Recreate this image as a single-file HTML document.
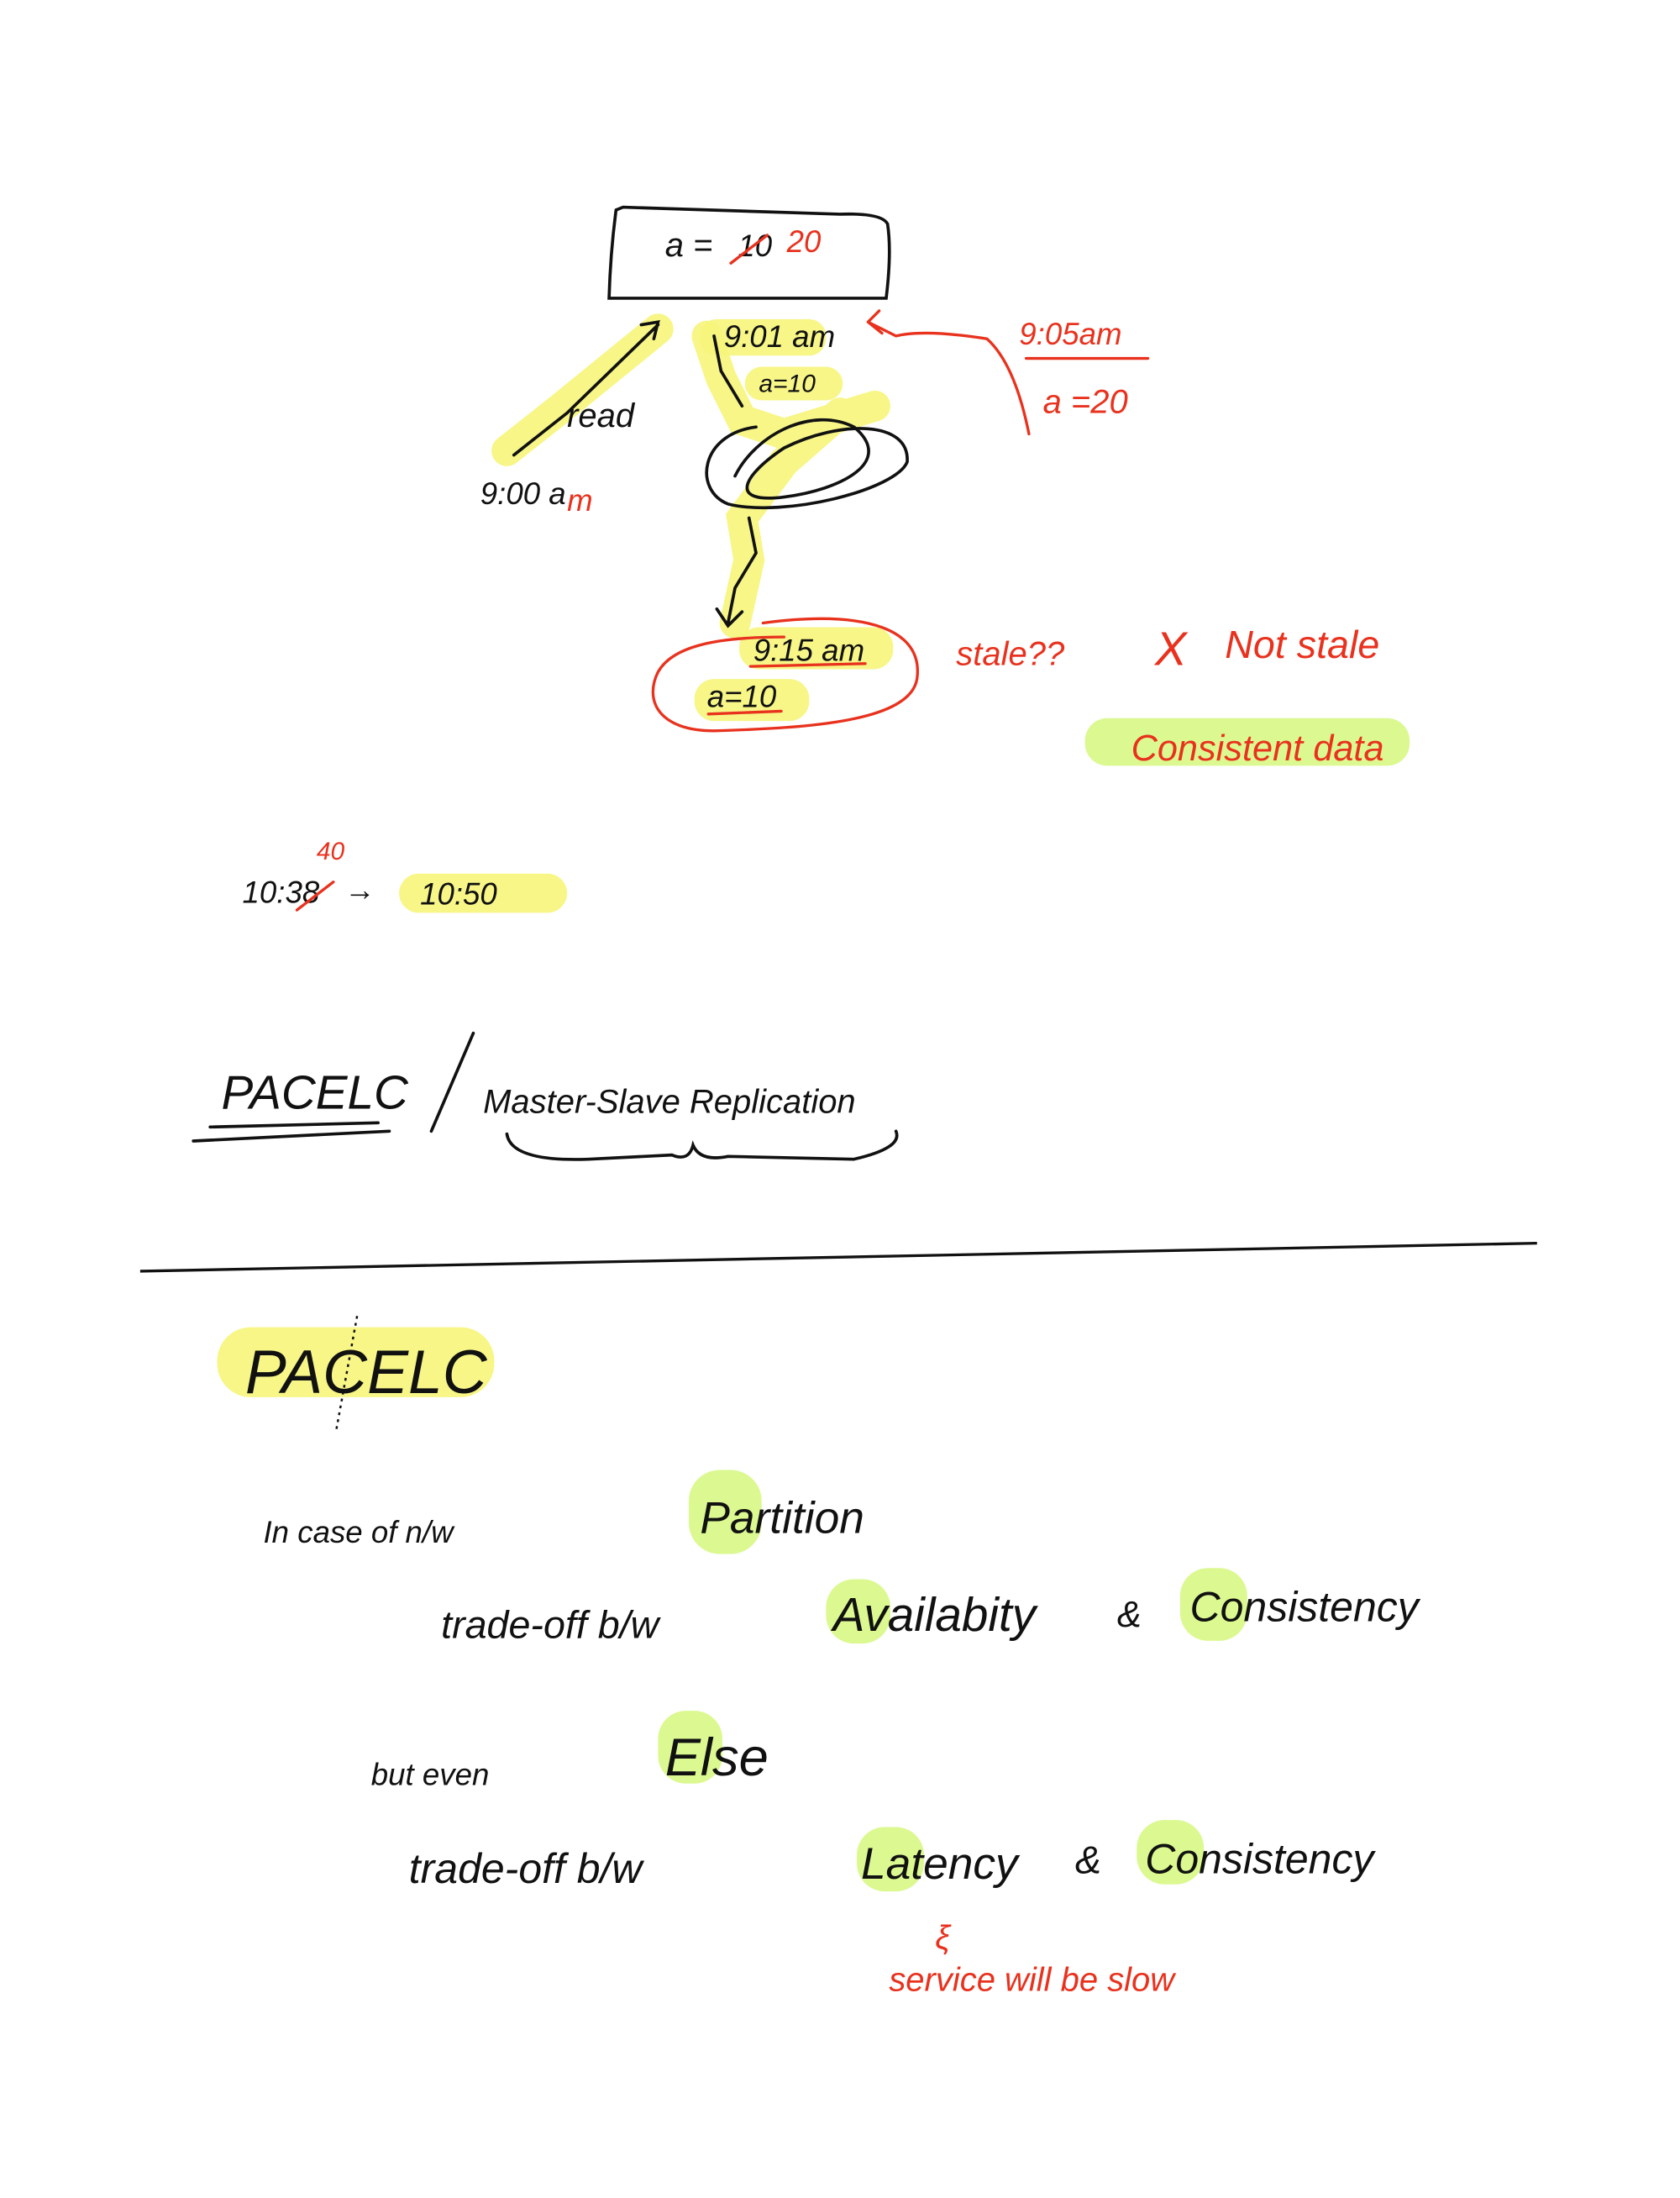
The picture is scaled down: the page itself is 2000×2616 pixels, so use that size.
<!DOCTYPE html>
<html><head><meta charset="utf-8"><style>
html,body{margin:0;padding:0;background:#fff}
svg{display:block}
text{font-family:"Liberation Sans",sans-serif;font-style:italic}
.k{fill:#111}.r{fill:#e8321e}
.ks{stroke:#111;fill:none;stroke-width:2.2;stroke-linecap:round}
.rs{stroke:#e8321e;fill:none;stroke-width:2;stroke-linecap:round}
.yh{fill:#f6f57a;opacity:.9}.gh{fill:#d9f98a;opacity:.95}
.yl{stroke:#f6f57a;fill:none;stroke-linecap:round;opacity:.9}
</style></head><body>
<svg width="2000" height="2616" viewBox="0 0 1200 1570">
<g>
<path class="yl" stroke-width="22" d="M362,322 L400,292 L470,235"/>
<path class="yl" stroke-width="22" d="M505,240 L515,270 L530,300 L560,310 L625,290 M600,295 L560,330 L530,370 L535,400 L525,445"/>
<rect class="yh" x="500" y="228" width="90" height="26" rx="12"/>
<rect class="yh" x="532" y="262" width="70" height="24" rx="12"/>
<rect class="yh" x="528" y="448" width="110" height="30" rx="14"/>
<rect class="yh" x="496" y="485" width="82" height="30" rx="14"/>
<rect class="gh" x="775" y="513" width="232" height="34" rx="16"/>
<rect class="yh" x="285" y="624" width="120" height="28" rx="14"/>
<rect class="yh" x="155" y="948" width="198" height="50" rx="24"/>
<rect class="gh" x="492" y="1050" width="52" height="60" rx="22"/>
<rect class="gh" x="590" y="1128" width="46" height="46" rx="20"/>
<rect class="gh" x="843" y="1120" width="48" height="52" rx="20"/>
<rect class="gh" x="470" y="1222" width="46" height="52" rx="20"/>
<rect class="gh" x="612" y="1305" width="48" height="46" rx="20"/>
<rect class="gh" x="812" y="1300" width="48" height="46" rx="20"/>
</g>
<g>
<path class="ks" d="M440,150 Q436,180 435,213 L633,213 Q637,180 634,160 Q630,152 600,153 L445,148 Z"/>
<text class="k" x="475" y="183" font-size="24">a =</text>
<text class="k" x="527" y="183" font-size="22">10</text>
<line class="rs" x1="522" y1="188" x2="548" y2="168"/>
<text class="r" x="562" y="180" font-size="22">20</text>
<path class="ks" d="M367,325 L405,295 L470,232 M458,232 L470,230 L467,242"/>
<text class="k" x="405" y="305" font-size="24">read</text>
<text class="k" x="343" y="360" font-size="22">9:00 a</text>
<text class="r" x="405" y="365" font-size="22">m</text>
<text class="k" x="517" y="248" font-size="22">9:01 am</text>
<text class="k" x="542" y="280" font-size="18">a=10</text>
<path class="ks" d="M510,240 L515,265 L530,290 M540,305 C500,310 495,350 520,360 C560,370 640,350 648,330 C650,300 600,300 560,320 C530,340 520,360 560,355 C600,350 640,330 610,305 C580,290 540,310 525,340 M535,370 L540,395 L525,420 L520,445 M512,435 L520,447 L530,437"/>
<path class="rs" d="M735,310 Q725,260 705,242 Q660,235 640,240 L620,230 M620,230 L628,222 M620,230 L630,238"/>
<text class="r" x="728" y="246" font-size="22">9:05am</text>
<line class="rs" x1="733" y1="256" x2="820" y2="256"/>
<text class="r" x="745" y="295" font-size="24">a =20</text>
<path class="rs" d="M545,445 C620,435 660,450 655,485 C650,515 580,520 510,522 C470,522 460,500 470,480 C480,462 510,455 560,455"/>
<text class="k" x="538" y="472" font-size="22">9:15 am</text>
<line class="rs" x1="536" y1="476" x2="618" y2="474"/>
<text class="k" x="505" y="505" font-size="22">a=10</text>
<line class="rs" x1="506" y1="510" x2="558" y2="508"/>
<text class="r" x="683" y="475" font-size="24">stale??</text>
<text class="r" x="825" y="475" font-size="34">X</text>
<text class="r" x="875" y="470" font-size="28">Not stale</text>
<text class="r" x="808" y="543" font-size="26">Consistent data</text>
</g>
<g>
<text class="k" x="173" y="645" font-size="22">10:38</text>
<line class="rs" x1="212" y1="650" x2="238" y2="630"/>
<text class="r" x="226" y="614" font-size="18">40</text>
<text class="k" x="246" y="643" font-size="22">→</text>
<text class="k" x="300" y="646" font-size="22">10:50</text>
</g>
<g>
<text class="k" x="158" y="792" font-size="34">PACELC</text>
<path class="ks" d="M138,815 L278,808 M150,805 L270,802" stroke-width="3"/>
<line class="ks" x1="308" y1="808" x2="338" y2="738"/>
<text class="k" x="345" y="795" font-size="24">Master-Slave  Replication</text>
<path class="ks" d="M362,810 Q365,830 420,828 L480,825 Q492,830 495,818 Q500,830 520,826 L610,828 Q645,820 640,808"/>
</g>
<line x1="100" y1="908" x2="1098" y2="888" stroke="#111" stroke-width="2"/>
<g>
<text class="k" x="175" y="995" font-size="44" font-style="normal">PACELC</text>
<line x1="255" y1="940" x2="240" y2="1022" stroke="#111" stroke-width="1.5" stroke-dasharray="2,3"/>
<text class="k" x="188" y="1102" font-size="22">In   case   of   n/w</text>
<text class="k" x="500" y="1095" font-size="32">Partition</text>
<text class="k" x="315" y="1170" font-size="28">trade-off   b/w</text>
<text class="k" x="595" y="1165" font-size="34">Availabity</text>
<text class="k" x="798" y="1162" font-size="26">&amp;</text>
<text class="k" x="850" y="1158" font-size="30">Consistency</text>
<text class="k" x="265" y="1275" font-size="22">but   even</text>
<text class="k" x="475" y="1268" font-size="38">Else</text>
<text class="k" x="292" y="1345" font-size="30">trade-off   b/w</text>
<text class="k" x="615" y="1342" font-size="32">Latency</text>
<text class="k" x="768" y="1338" font-size="28">&amp;</text>
<text class="k" x="818" y="1338" font-size="30">Consistency</text>
<text class="r" x="668" y="1392" font-size="24">ξ</text>
<text class="r" x="635" y="1422" font-size="24">service will be slow</text>
</g>
</svg>
</body></html>
